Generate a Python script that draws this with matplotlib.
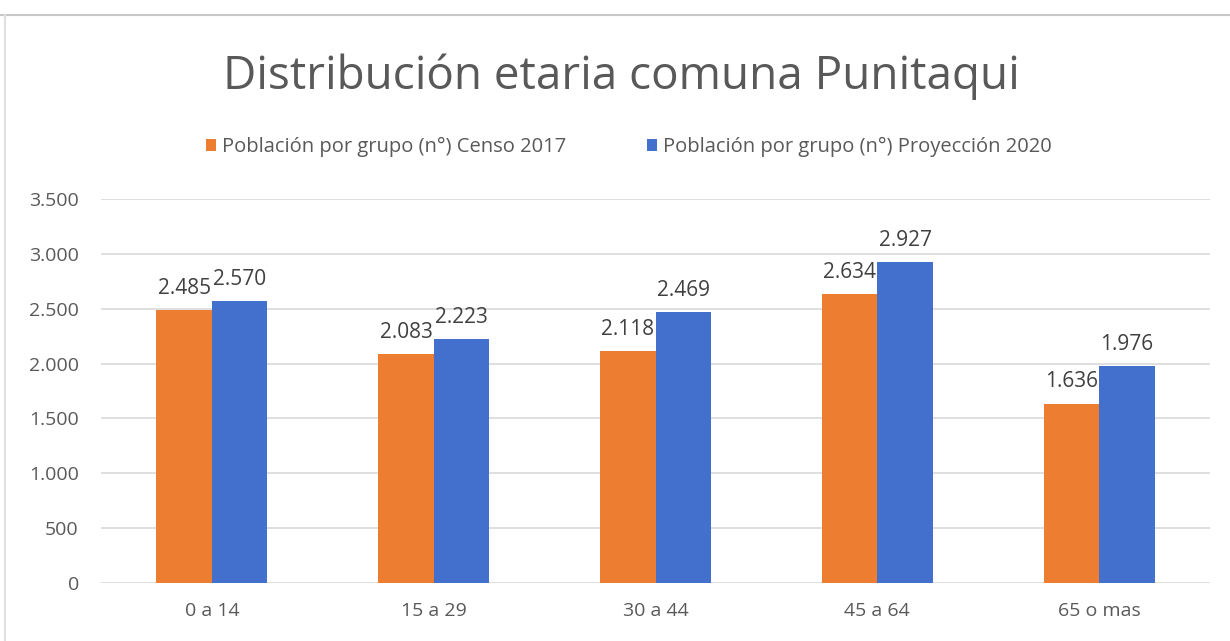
"""Grouped bar chart: age distribution, Punitaqui."""
import matplotlib
matplotlib.use("Agg")
import matplotlib.pyplot as plt
from matplotlib.lines import Line2D
from matplotlib.ticker import FuncFormatter
import numpy as np

categories = ["0 a 14", "15 a 29", "30 a 44", "45 a 64", "65 o mas"]
censo_2017 = [2485, 2083, 2118, 2634, 1636]
proyeccion_2020 = [2570, 2223, 2469, 2927, 1976]
series_names = ["Población por grupo (n°) Censo 2017",
                "Población por grupo (n°) Proyección 2020"]

ORANGE = "#ED7D31"
BLUE = "#4270CC"
GREY = "#595959"


def miles(v, pos=None):
    return f"{int(v):,}".replace(",", ".")


plt.rcParams['font.family'] = ['Open Sans', 'DejaVu Sans']

fig = plt.figure(figsize=(12.3, 6.41), dpi=100)
ax = fig.add_axes([101 / 1230, 58 / 641, 1109 / 1230, 384 / 641])

x = np.arange(len(categories))
w = 0.25
b1 = ax.bar(x - w / 2, censo_2017, w, color=ORANGE, label=series_names[0])
b2 = ax.bar(x + w / 2, proyeccion_2020, w, color=BLUE, label=series_names[1])

for bars in (b1, b2):
    for rect in bars:
        ax.annotate(miles(rect.get_height()),
                    (rect.get_x() + rect.get_width() / 2, rect.get_height()),
                    xytext=(0, 8), textcoords="offset points",
                    ha="center", va="bottom", fontsize=15, color="#404040")

ax.set_xlim(-0.5, len(categories) - 0.5)
ax.set_ylim(0, 3500)
ax.set_yticks(np.arange(0, 3501, 500))
ax.yaxis.set_major_formatter(FuncFormatter(miles))
ax.set_xticks(x)
ax.set_xticklabels(categories)
ax.tick_params(axis="both", length=0, labelsize=14, colors=GREY)
ax.tick_params(axis="x", pad=14)
ax.tick_params(axis="y", pad=16)
ax.grid(axis="y", color="#D9D9D9", linewidth=1.2)
ax.set_axisbelow(True)
for s in ax.spines.values():
    s.set_visible(False)

fig.text(0.505, 1 - 77 / 641, "Distribución etaria comuna Punitaqui",
         ha="center", va="center", fontsize=33, color=GREY)
fig.legend(loc="center", bbox_to_anchor=(0.511, 1 - 147 / 641), ncol=2,
           frameon=False, fontsize=14.5, handlelength=0.5, handleheight=0.5,
           handletextpad=0.3, columnspacing=4.0, labelcolor=GREY)

# screenshot frame lines
fig.add_artist(Line2D([0, 1], [1 - 15 / 641] * 2, color="#C8C8C8", lw=1.5))
fig.add_artist(Line2D([5 / 1230] * 2, [0, 1 - 15 / 641], color="#E0E0E0", lw=1.5))

fig.savefig("out.png", dpi=100)
